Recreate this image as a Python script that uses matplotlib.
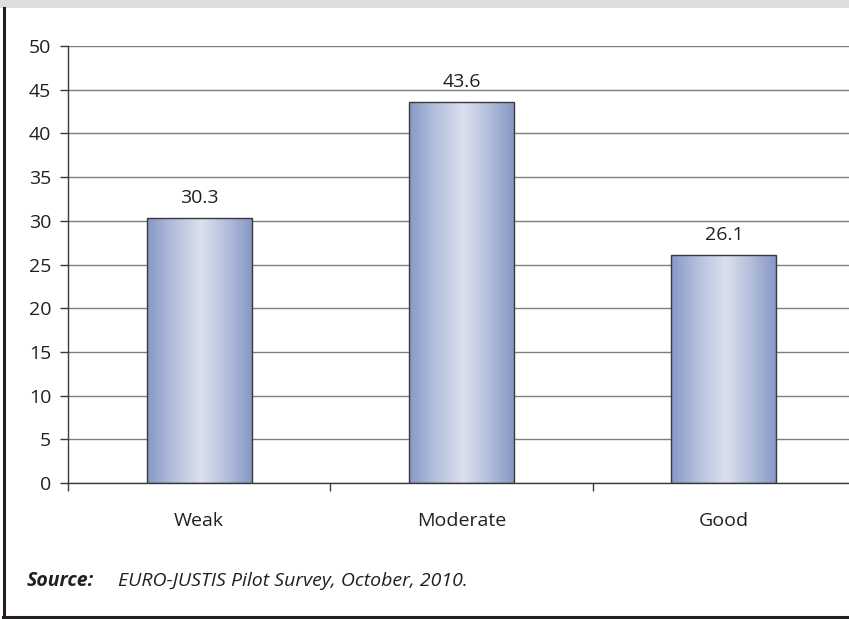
import numpy as np
import matplotlib
matplotlib.use("Agg")
import matplotlib.pyplot as plt
from matplotlib.colors import LinearSegmentedColormap
from matplotlib.lines import Line2D
from matplotlib.patches import Rectangle

categories = ["Weak", "Moderate", "Good"]
values = [30.3, 43.6, 26.1]
y_ticks = [0, 5, 10, 15, 20, 25, 30, 35, 40, 45, 50]
source_label = "Source:"
source_text = "EURO-JUSTIS Pilot Survey, October, 2010."

plt.rcParams["font.family"] = ["Open Sans", "DejaVu Sans"]
text_color = "#231f20"
fs = 14

fig = plt.figure(figsize=(8.49, 6.19), dpi=100)
fig.patch.set_facecolor("white")

# top grey band
fig.add_artist(Rectangle((0, 1 - 7.5 / 619), 1, 7.5 / 619, transform=fig.transFigure,
                         facecolor="#dcdddf", edgecolor="none"))
# frame lines
fig.add_artist(Line2D([4 / 849, 4 / 849], [1 - 8 / 619, 1 - 617 / 619], transform=fig.transFigure,
                      color="#231f20", lw=2.2))
fig.add_artist(Line2D([3 / 849, 1], [1 - 616.5 / 619, 1 - 616.5 / 619], transform=fig.transFigure,
                      color="#231f20", lw=2.2))

ax = fig.add_axes([68 / 849, 1 - 483 / 619, 787 / 849, (483 - 46) / 619])
ax.set_facecolor("none")
x = np.arange(len(categories))
bars = ax.bar(x, values, width=0.4, facecolor="none", edgecolor="#3a3a3a", linewidth=1.0, zorder=3)

cmap = LinearSegmentedColormap.from_list(
    "barg", [(0.0, "#8698c6"), (0.25, "#b3bfdc"), (0.52, "#dbe0ee"), (0.75, "#b5c0dc"), (1.0, "#8698c6")])
grad = np.linspace(0, 1, 256).reshape(1, -1)
for b in bars:
    x0, y0 = b.get_x(), b.get_y()
    w, h = b.get_width(), b.get_height()
    im = ax.imshow(grad, cmap=cmap, aspect="auto", extent=(x0, x0 + w, y0, y0 + h),
                   interpolation="bicubic", zorder=2)
    im.set_clip_path(b)
    ax.annotate(f"{h:.1f}", (x0 + w / 2, y0 + h), xytext=(0, 11), textcoords="offset points",
                ha="center", va="baseline", fontsize=fs, color=text_color)

ax.set_xlim(-0.5, 2.5)
ax.set_ylim(0, 50)
ax.set_yticks(y_ticks)
ax.set_yticklabels([str(t) for t in y_ticks], fontsize=fs, color=text_color)
ax.yaxis.grid(True, color="#7f7f7f", linewidth=1.0, zorder=0)
ax.set_axisbelow(True)
ax.set_xticks(x)
ax.set_xticklabels(categories, fontsize=fs, color=text_color)
ax.tick_params(axis="x", which="major", length=0, pad=21)
ax.set_xticks([-0.5, 0.5, 1.5, 2.5], minor=True)
ax.tick_params(axis="x", which="minor", length=6, width=1, color="#3a3a3a")
ax.tick_params(axis="y", length=6, width=1, color="#3a3a3a", pad=6)
for s in ["top", "right"]:
    ax.spines[s].set_visible(False)
for s in ["left", "bottom"]:
    ax.spines[s].set_color("#3a3a3a")
    ax.spines[s].set_linewidth(1.0)

fig.text(27 / 849, 1 - 586 / 619, source_label, fontsize=fs, fontweight="bold", fontstyle="italic",
         color=text_color, va="baseline", ha="left")
fig.text(118 / 849, 1 - 586 / 619, source_text, fontsize=fs, fontstyle="italic",
         color=text_color, va="baseline", ha="left")

fig.savefig("out.png", dpi=100)
